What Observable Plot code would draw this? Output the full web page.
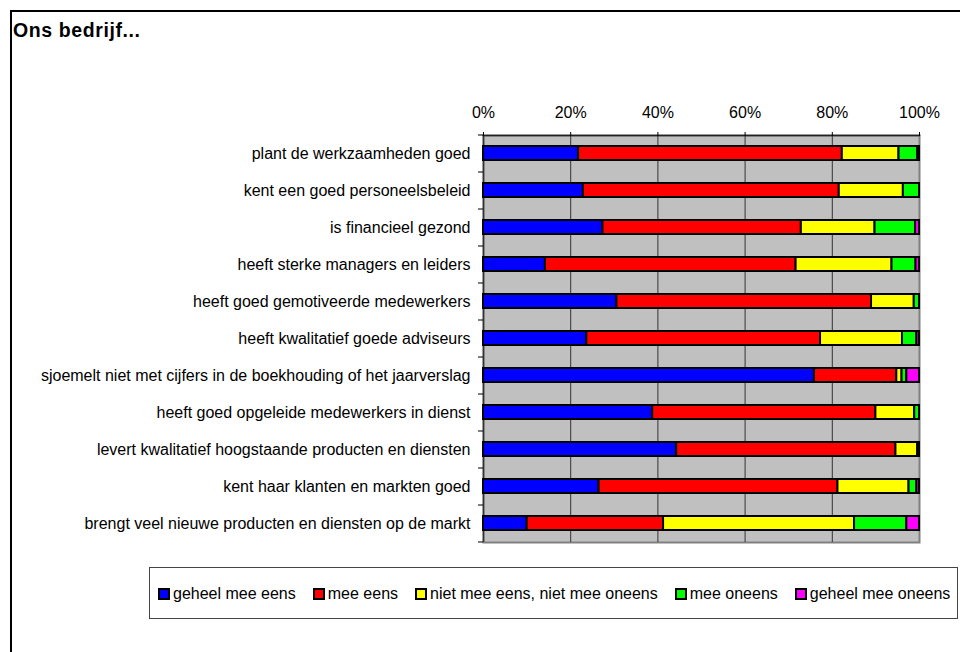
<!DOCTYPE html>
<html lang="nl">
<head>
<meta charset="utf-8">
<script src="https://cdn.jsdelivr.net/npm/d3@7"></script>
<script src="https://cdn.jsdelivr.net/npm/@observablehq/plot@0.6"></script>
<style>
  html, body { margin: 0; padding: 0; background: #fff; }
  #page {
    position: relative; width: 960px; height: 652px; overflow: hidden;
    font-family: "Liberation Sans", Arial, sans-serif; background: #fff;
  }
  #outline {
    position: absolute; left: 10px; top: 10px; width: 980px; height: 700px;
    border-left: 2px solid #000; border-top: 2px solid #000;
  }
  #title {
    position: absolute; left: 13px; top: 21px; line-height: 1;
    font-size: 19.5px; font-weight: bold; letter-spacing: 0.6px; color: #000;
  }
  #chart { position: absolute; left: 0; top: 0; }
  #legend {
    position: absolute; left: 149px; top: 567px; width: 809px; height: 52px;
    border: 1px solid #444; box-sizing: border-box;
    display: flex; align-items: center; padding-left: 8px; padding-top: 1px;
    font-size: 16px; color: #000;
  }
  .item { display: flex; align-items: center; margin-right: 17px; white-space: nowrap; }
  .sw { width: 8px; height: 8px; border: 2px solid #000; margin-right: 3px; }
</style>
</head>
<body>
<div id="page">
  <div id="outline"></div>
  <div id="chart"></div>
  <div id="title">Ons bedrijf...</div>
  <div id="legend"></div>
</div>
<script>
// Statements, top to bottom
const categories = [
  "plant de werkzaamheden goed",
  "kent een goed personeelsbeleid",
  "is financieel gezond",
  "heeft sterke managers en leiders",
  "heeft goed gemotiveerde medewerkers",
  "heeft kwalitatief goede adviseurs",
  "sjoemelt niet met cijfers in de boekhouding of het jaarverslag",
  "heeft goed opgeleide medewerkers in dienst",
  "levert kwalitatief hoogstaande producten en diensten",
  "kent haar klanten en markten goed",
  "brengt veel nieuwe producten en diensten op de markt"
];

// Answer categories and their colours
const series = ["geheel mee eens", "mee eens", "niet mee eens, niet mee oneens", "mee oneens", "geheel mee oneens"];
const colors = ["#0000ff", "#ff0000", "#ffff00", "#00ff00", "#ff00ff"];

// Share of respondents (%) per statement, one array per answer
const geheelMeeEens   = [21.8, 22.9, 27.4, 14.2, 30.6, 23.7, 75.9, 38.8, 44.3, 26.5, 10.0];
const meeEens         = [60.5, 58.7, 45.5, 57.5, 58.4, 53.6, 18.9, 51.2, 50.3, 54.8, 31.3];
const neutraal        = [13.0, 14.7, 16.9, 22.0,  9.8, 18.8,  1.2,  8.9,  5.0, 16.3, 43.8];
const meeOneens       = [ 4.3,  3.7,  9.3,  5.5,  1.2,  3.3,  1.1,  1.1,  0.4,  1.8, 12.0];
const geheelMeeOneens = [ 0.4,  0.0,  0.9,  0.8,  0.0,  0.6,  2.9,  0.0,  0.0,  0.6,  2.9];

// Axis ticks
const xTicks = [0, 20, 40, 60, 80, 100];
const gridTicks = [20, 40, 60, 80];

const valueArrays = [geheelMeeEens, meeEens, neutraal, meeOneens, geheelMeeOneens];
const rows = [];
categories.forEach((c, i) => {
  series.forEach((s, j) => {
    const v = valueArrays[j][i];
    if (v > 0) rows.push({category: c, series: s, value: v});
  });
});

const lastCategory = categories[categories.length - 1];
const halfStep = 18.5;

const chart = Plot.plot({
  width: 960,
  height: 652,
  marginLeft: 483,
  marginRight: 41,
  marginTop: 135,
  marginBottom: 110,
  style: {fontFamily: "'Liberation Sans', Arial, sans-serif", fontSize: "16px", background: "transparent", color: "#000"},
  x: {domain: [0, 100]},
  y: {domain: categories, paddingInner: 0.614, paddingOuter: 0.307},
  color: {domain: series, range: colors},
  marks: [
    Plot.frame({fill: "#c0c0c0", stroke: "#808080", strokeWidth: 2}),
    Plot.gridX({ticks: gridTicks, stroke: "#333", strokeOpacity: 1, strokeWidth: 1}),
    Plot.frame({anchor: "top", stroke: "#222", strokeWidth: 1.5}),
    Plot.ruleX([0], {stroke: "#333", strokeWidth: 1.5}),
    Plot.barX(rows, Plot.stackX({
      x: "value", y: "category", fill: "series",
      stroke: "#000", strokeWidth: 2
    })),
    Plot.axisX({anchor: "top", ticks: xTicks, tickFormat: d => d + "%", tickSize: 4, tickPadding: 14, fontSize: 16, label: null}),
    Plot.axisY({tickSize: 0, tickPadding: 13, fontSize: 16, label: null}),
    Plot.axisY({tickSize: 5, tickFormat: () => "", label: null, dy: -halfStep}),
    Plot.axisY({ticks: [lastCategory], tickSize: 5, tickFormat: () => "", label: null, dy: halfStep})
  ]
});
document.getElementById("chart").appendChild(chart);

// Legend built from the same series and colours
const legend = document.getElementById("legend");
series.forEach((s, j) => {
  const item = document.createElement("div");
  item.className = "item";
  const sw = document.createElement("span");
  sw.className = "sw";
  sw.style.background = colors[j];
  const label = document.createElement("span");
  label.textContent = s;
  item.appendChild(sw);
  item.appendChild(label);
  legend.appendChild(item);
});
</script>
</body>
</html>
